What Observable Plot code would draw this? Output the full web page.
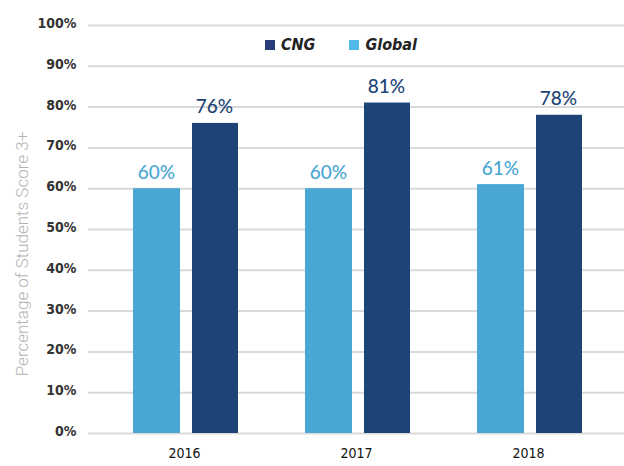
<!DOCTYPE html>
<html>
<head>
<meta charset="utf-8">
<script src="https://cdn.jsdelivr.net/npm/d3@7"></script>
<script src="https://cdn.jsdelivr.net/npm/@observablehq/plot@0.6"></script>
<style>
  html, body { margin: 0; padding: 0; background: #fff; }
  #chart { position: relative; width: 624px; height: 466px; }
  .legend { position: absolute; left: 265px; top: 35px; display: flex; align-items: center;
            font-family: "Liberation Sans Narrow", "DejaVu Sans Condensed", sans-serif;
            font-weight: bold; font-style: italic; font-size: 16px; color: #222; }
  .legend .item { display: flex; align-items: center; margin-right: 34px; }
  .legend .sw { width: 10px; height: 10px; margin-right: 6px; }
</style>
</head>
<body>
<div id="chart"></div>
<script>
const years = ["2016", "2017", "2018"];
const globalValues = [60, 60, 61];
const cngValues = [76, 81, 78];
const yTicks = [0, 10, 20, 30, 40, 50, 60, 70, 80, 90, 100];
const seriesNames = ["CNG", "Global"];
const barColors = {CNG: "#1c4477", Global: "#4aa6d3"};
const legendColors = {CNG: "#283c78", Global: "#52b8ea"};
const yLabel = "Percentage of Students Score 3+";

const globalData = years.map((y, i) => ({year: y, value: globalValues[i]}));
const cngData = years.map((y, i) => ({year: y, value: cngValues[i]}));

const tickFont = '"Liberation Sans Narrow", "DejaVu Sans Condensed", sans-serif';

const plot = Plot.plot({
  width: 624,
  height: 466,
  marginTop: 25,
  marginBottom: 33,
  marginLeft: 88,
  marginRight: 0,
  style: {background: "#fff"},
  x: {domain: years, paddingInner: 0, paddingOuter: 0.052, label: null},
  y: {domain: [0, 100], label: null},
  marks: [
    Plot.ruleY(yTicks, {stroke: "#d9d9d9", strokeWidth: 2}),
    Plot.barY(globalData, {x: "year", y: "value", fill: barColors.Global, insetLeft: 35, insetRight: 90}),
    Plot.barY(cngData, {x: "year", y: "value", fill: barColors.CNG, insetLeft: 94, insetRight: 32}),
    Plot.text(globalData, {x: "year", y: "value", text: d => d.value + "%", dx: -28, dy: -10, lineAnchor: "bottom",
      fill: barColors.Global, fontSize: 19, fontWeight: 500, fontFamily: "Lato, sans-serif", letterSpacing: -1}),
    Plot.text(cngData, {x: "year", y: "value", text: d => d.value + "%", dx: 30, dy: -10, lineAnchor: "bottom",
      fill: barColors.CNG, fontSize: 19, fontWeight: 500, fontFamily: "Lato, sans-serif", letterSpacing: -1}),
    Plot.axisY(yTicks, {tickSize: 0, tickPadding: 12, tickFormat: d => d + "%", dy: -2,
      fontSize: 14, fontWeight: "bold", fill: "#333", fontFamily: tickFont, label: null}),
    Plot.axisX({tickSize: 0, tickPadding: 15, fontSize: 14, fill: "#111", fontFamily: tickFont, label: null})
  ]
});

const svg = d3.select(plot);
svg.append("text")
  .attr("transform", "translate(22,254) rotate(-90)")
  .attr("text-anchor", "middle")
  .attr("dominant-baseline", "central")
  .attr("font-family", "Roboto, sans-serif")
  .attr("font-weight", 300)
  .attr("font-size", 17)
  .attr("fill", "#b3b3b3")
  .text(yLabel);

const chart = document.getElementById("chart");
chart.appendChild(plot);

const legend = document.createElement("div");
legend.className = "legend";
seriesNames.forEach(name => {
  const item = document.createElement("div");
  item.className = "item";
  const sw = document.createElement("span");
  sw.className = "sw";
  sw.style.background = legendColors[name];
  const label = document.createElement("span");
  label.textContent = name;
  item.appendChild(sw);
  item.appendChild(label);
  legend.appendChild(item);
});
chart.appendChild(legend);
</script>
</body>
</html>
